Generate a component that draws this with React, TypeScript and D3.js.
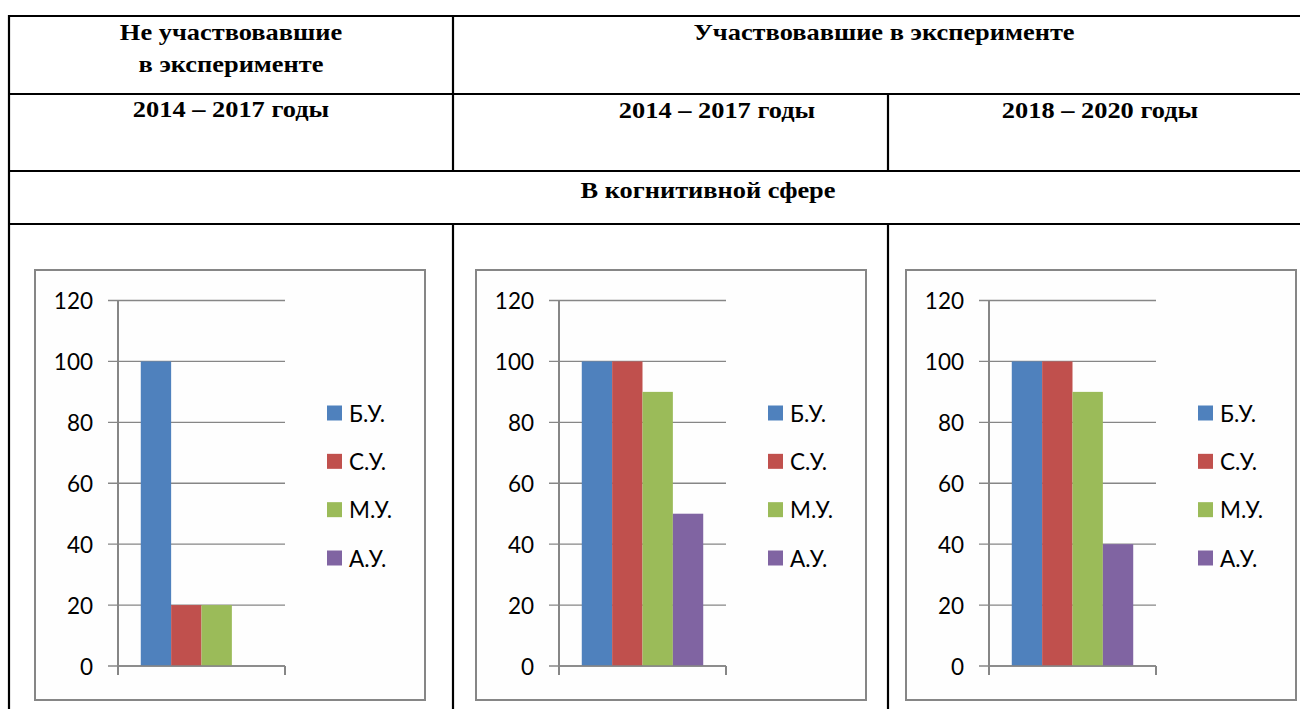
import React from "react";
import * as d3 from "d3";

// ---- data ----
const seriesNames: string[] = ["Б.У.", "С.У.", "М.У.", "А.У."];
const seriesColors: string[] = ["#4F81BD", "#C0504D", "#9BBB59", "#8064A2"];
const notParticipated2014: number[] = [100, 20, 20, 0];
const participated2014: number[] = [100, 100, 90, 50];
const participated2018: number[] = [100, 100, 90, 40];
const yTicks: number[] = [0, 20, 40, 60, 80, 100, 120];

const headerGroup1: string[] = ["Не участвовавшие", "в эксперименте"];
const headerGroup2 = "Участвовавшие в эксперименте";
const periodLabels: string[] = ["2014 – 2017 годы", "2014 – 2017 годы", "2018 – 2020 годы"];
const sphereLabel = "В когнитивной сфере";

const W = 1300;
const H = 709;

const headerFont = "'Liberation Serif', 'Times New Roman', serif";
const chartFont = "Lato, 'Open Sans', sans-serif";

type ChartProps = { ox: number; values: number[] };

function BarChart({ ox, values }: ChartProps) {
  const boxTop = 270;
  const boxBottom = 700;
  const boxW = 390;
  const axisX = ox + 83;
  const plotRight = ox + 250;
  const y = d3.scaleLinear().domain([0, 120]).range([666, 300.5]);
  const outer = d3.scaleBand<string>().domain(["c"]).range([axisX, plotRight]).paddingInner(0).paddingOuter(0.1875);
  const inner = d3.scaleBand<string>().domain(seriesNames).range([0, outer.bandwidth()]).padding(0);
  const legendY = d3.scalePoint<string>().domain(seriesNames).range([413, 558]);
  const grey = "#868686";
  return (
    <g>
      <rect x={ox} y={boxTop} width={boxW} height={boxBottom - boxTop} fill="#fefefe" stroke={grey} strokeWidth={2} />
      {yTicks.map((t) => (
        <g key={t}>
          <line x1={axisX - 10} x2={plotRight} y1={y(t)} y2={y(t)} stroke={grey} strokeWidth={1.3} />
          <text
            x={ox + 58}
            y={y(t)}
            textAnchor="end"
            dominantBaseline="central"
            fontFamily={chartFont}
            fontSize={22.5}
            fill="#000"
          >
            {t}
          </text>
        </g>
      ))}
      {seriesNames.map((s, i) =>
        values[i] > 0 ? (
          <rect
            key={s}
            x={(outer("c") as number) + (inner(s) as number)}
            y={y(values[i])}
            width={inner.bandwidth()}
            height={y(0) - y(values[i])}
            fill={seriesColors[i]}
          />
        ) : null
      )}
      <line x1={axisX} x2={axisX} y1={y(120)} y2={y(0) + 9} stroke={grey} strokeWidth={2} />
      <line x1={axisX} x2={plotRight} y1={y(0)} y2={y(0)} stroke={grey} strokeWidth={1.5} />
      <line x1={plotRight} x2={plotRight} y1={y(0)} y2={y(0) + 9} stroke={grey} strokeWidth={2} />
      {seriesNames.map((s, i) => (
        <g key={s}>
          <rect x={ox + 292} y={(legendY(s) as number) - 7.5} width={15} height={15} fill={seriesColors[i]} />
          <text
            x={ox + 314}
            y={legendY(s) as number}
            dominantBaseline="central"
            fontFamily={chartFont}
            fontSize={22.5}
            fill="#000"
          >
            {s}
          </text>
        </g>
      ))}
    </g>
  );
}

function Header({ x, y, text }: { x: number; y: number; text: string }) {
  return (
    <text
      transform={`translate(${x},${y}) scale(1.1,1)`}
      textAnchor="middle"
      fontFamily={headerFont}
      fontWeight="bold"
      fontSize={24}
      fill="#000"
    >
      {text}
    </text>
  );
}

export default function App() {
  const rows = [16, 94, 171, 224];
  const lw = 2.2;
  return (
    <svg
      width={W}
      height={H}
      style={{ position: "absolute", left: 0, top: 0, background: "#fff" }}
    >
      <rect x={0} y={0} width={W} height={H} fill="#fff" />
      {rows.map((r) => (
        <line key={r} x1={8} x2={W} y1={r} y2={r} stroke="#000" strokeWidth={lw} />
      ))}
      <line x1={9} x2={9} y1={15} y2={H} stroke="#000" strokeWidth={lw} />
      <line x1={453} x2={453} y1={15} y2={172} stroke="#000" strokeWidth={lw} />
      <line x1={453} x2={453} y1={223} y2={H} stroke="#000" strokeWidth={lw} />
      <line x1={888} x2={888} y1={93} y2={172} stroke="#000" strokeWidth={lw} />
      <line x1={888} x2={888} y1={223} y2={H} stroke="#000" strokeWidth={lw} />

      <Header x={231} y={40} text={headerGroup1[0]} />
      <Header x={231} y={72} text={headerGroup1[1]} />
      <Header x={884} y={40} text={headerGroup2} />
      <Header x={231} y={117} text={periodLabels[0]} />
      <Header x={717} y={118} text={periodLabels[1]} />
      <Header x={1100} y={118} text={periodLabels[2]} />
      <Header x={708} y={198} text={sphereLabel} />

      <BarChart ox={35} values={notParticipated2014} />
      <BarChart ox={476} values={participated2014} />
      <BarChart ox={906} values={participated2018} />
    </svg>
  );
}
